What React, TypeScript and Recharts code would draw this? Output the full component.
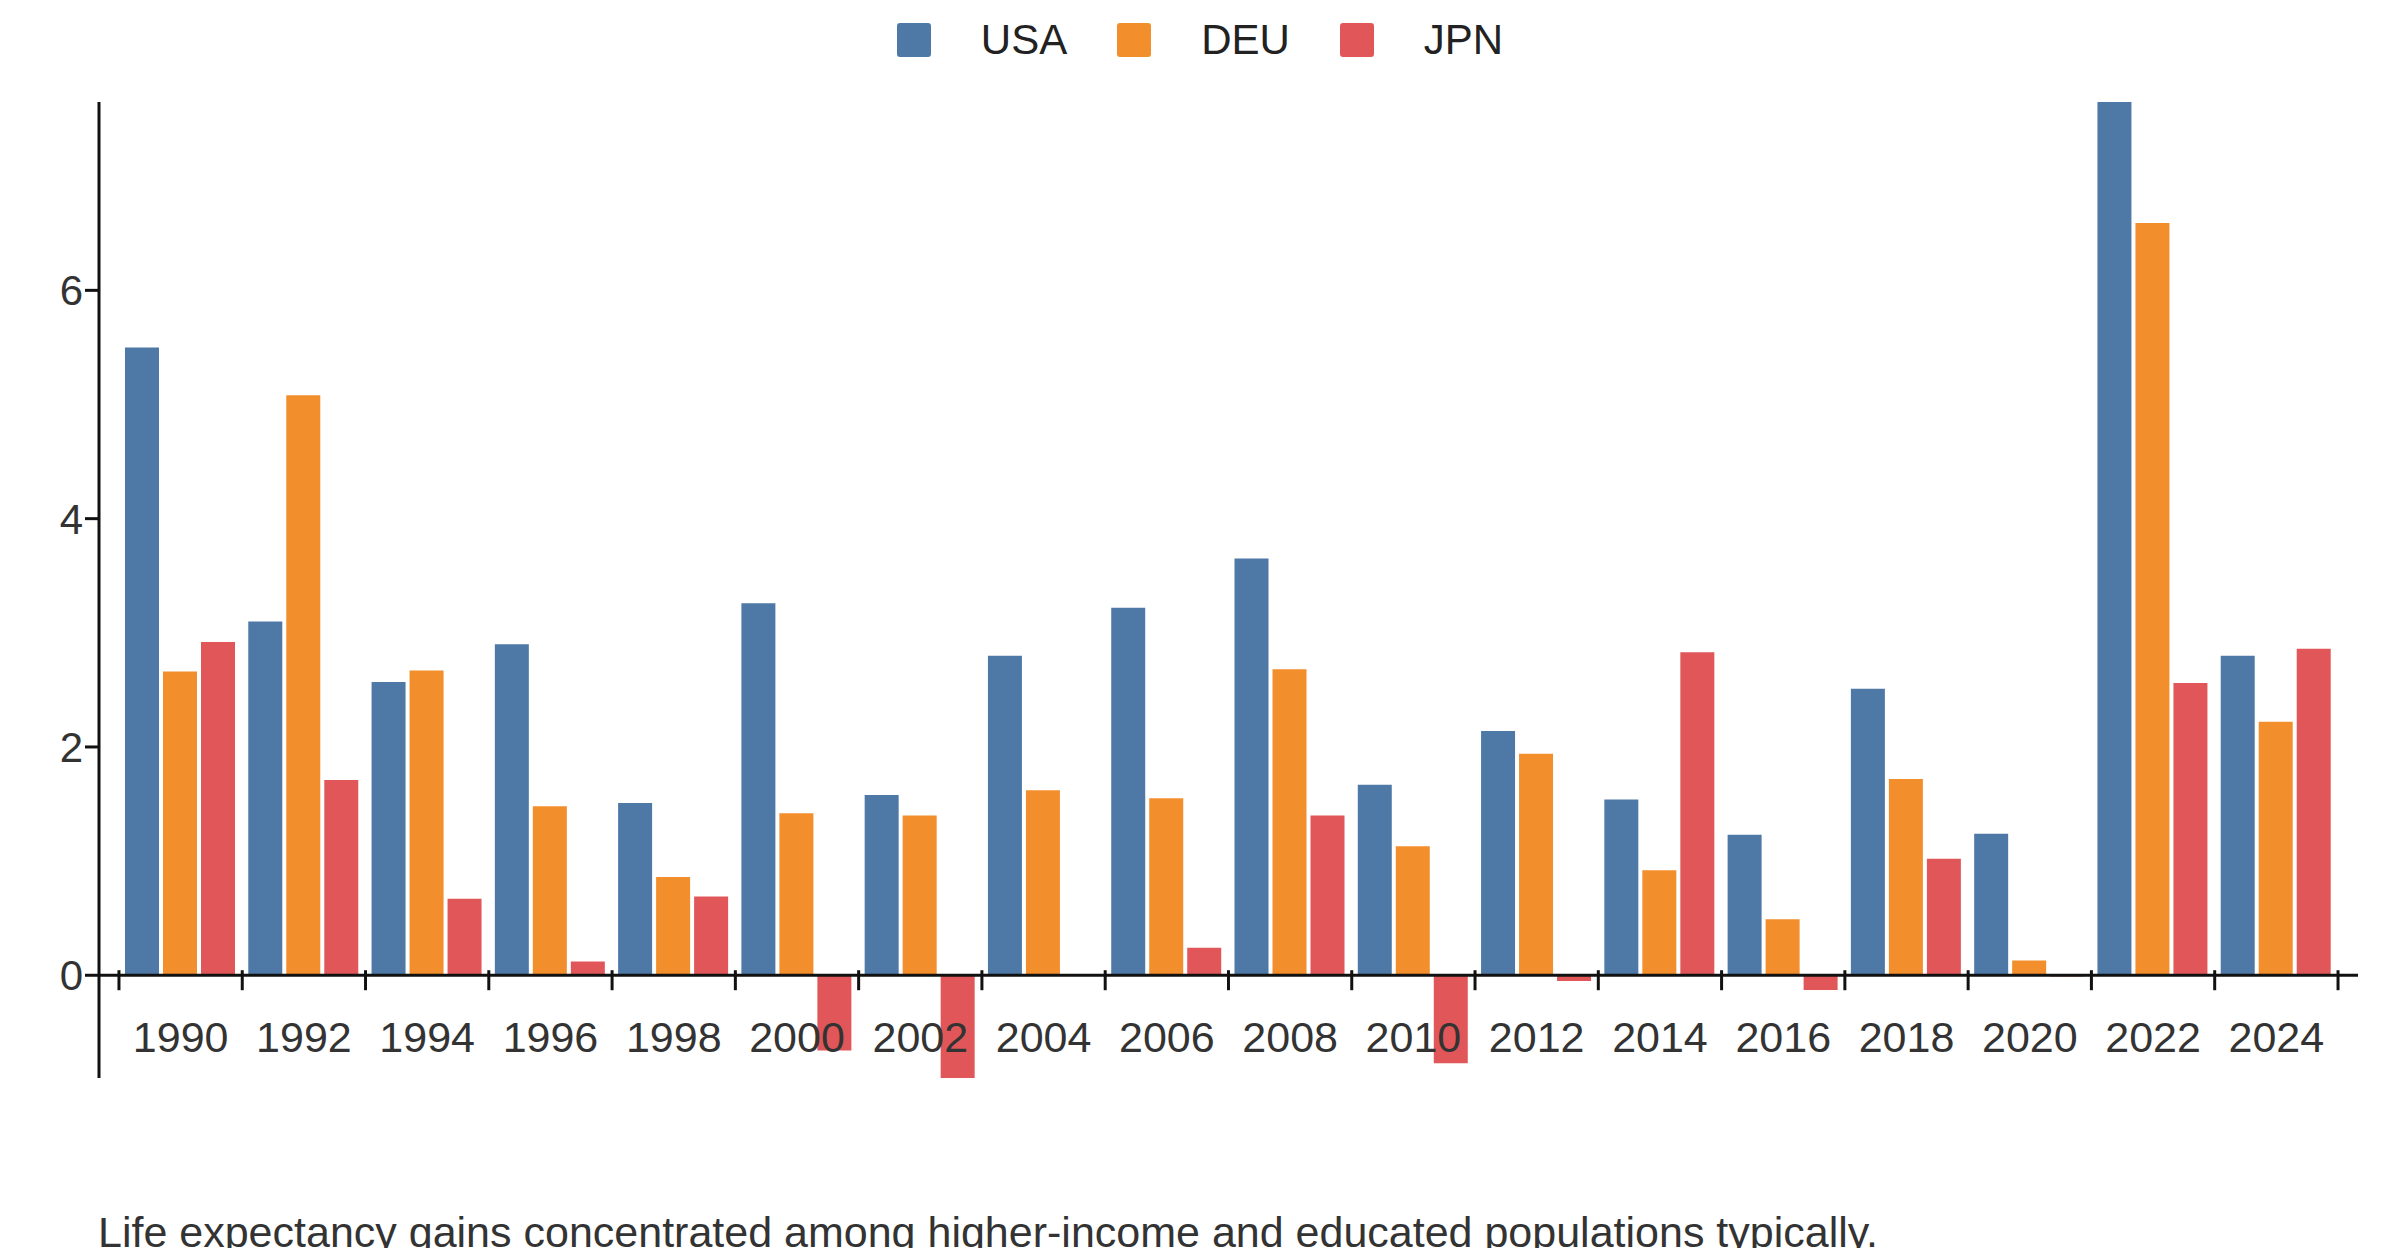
import { BarChart, Bar, XAxis, YAxis, Legend, ReferenceLine } from 'recharts';

const years = ['1990','1992','1994','1996','1998','2000','2002','2004','2006','2008','2010','2012','2014','2016','2018','2020','2022','2024'];
const usa = [5.5, 3.1, 2.57, 2.9, 1.51, 3.26, 1.58, 2.8, 3.22, 3.65, 1.67, 2.14, 1.54, 1.23, 2.51, 1.24, 7.9, 2.8];
const deu = [2.66, 5.08, 2.67, 1.48, 0.86, 1.42, 1.4, 1.62, 1.55, 2.68, 1.13, 1.94, 0.92, 0.49, 1.72, 0.13, 6.59, 2.22];
const jpn = [2.92, 1.71, 0.67, 0.12, 0.69, -0.66, -0.92, 0.01, 0.24, 1.4, -0.77, -0.05, 2.83, -0.13, 1.02, -0.01, 2.56, 2.86];
const yTicks = [0, 2, 4, 6];

const SERIES = [
  { key: 'USA', color: '#4e79a7' },
  { key: 'DEU', color: '#f28e2b' },
  { key: 'JPN', color: '#e15759' },
];

const data = years.map((y, i) => ({ year: y, USA: usa[i], DEU: deu[i], JPN: jpn[i] }));

const FONT = '"Liberation Sans", Arial, sans-serif';
const W = 2384, H = 1100;
const M = { top: 46, right: 34, bottom: 29, left: 90 };
const DOMAIN: [number, number] = [-0.9, 7.65];
const plotH = H - M.top - M.bottom - 1;
const zeroY = M.top + (DOMAIN[1] / (DOMAIN[1] - DOMAIN[0])) * plotH;
const band = (W - M.left - M.right - 40) / years.length;

const XTick = (props: any) => {
  const { x, payload, index } = props;
  const left = x - band / 2;
  return (
    <g>
      <line x1={left} x2={left} y1={zeroY} y2={zeroY + 20} stroke="#111" strokeWidth={3} />
      {index === years.length - 1 && (
        <line x1={x + band / 2} x2={x + band / 2} y1={zeroY} y2={zeroY + 20} stroke="#111" strokeWidth={3} />
      )}
      <text x={x} y={zeroY + 82} textAnchor="middle" fontSize={43} fill="#333" fontFamily={FONT}>
        {payload.value}
      </text>
    </g>
  );
};

const LegendContent = () => (
  <div style={{ display: 'flex', justifyContent: 'center', gap: 50, fontFamily: FONT, fontSize: 42, color: '#222' }}>
    {SERIES.map((s) => (
      <div key={s.key} style={{ display: 'flex', alignItems: 'center', gap: 50 }}>
        <span style={{ width: 34, height: 34, background: s.color, borderRadius: 3, display: 'inline-block' }} />
        <span>{s.key}</span>
      </div>
    ))}
  </div>
);

export default function App() {
  return (
    <div style={{ position: 'relative', width: W, height: 1240, background: '#fff' }}>
      <BarChart width={W} height={H} data={data} margin={M} barCategoryGap={6} barGap={4}>
        <Legend verticalAlign="top" content={<LegendContent />} wrapperStyle={{ top: 8, left: 0, width: W }} />
        <XAxis dataKey="year" height={1} axisLine={false} tickLine={false} tick={<XTick />} interval={0} padding={{ left: 20, right: 20 }} />
        <YAxis
          domain={DOMAIN}
          allowDataOverflow
          ticks={yTicks}
          width={1}
          axisLine={{ stroke: '#111', strokeWidth: 3 }}
          tickLine={{ stroke: '#111', strokeWidth: 3 }}
          tickSize={14}
          tick={{ fontSize: 42, fill: '#333', fontFamily: FONT }}
        />
        <ReferenceLine y={0} stroke="#111" strokeWidth={3} />
        {SERIES.map((s) => (
          <Bar key={s.key} dataKey={s.key} fill={s.color} isAnimationActive={false} />
        ))}
      </BarChart>
      <div style={{ position: 'absolute', left: 90, top: 1200, fontFamily: FONT, fontSize: 43, color: '#333' }}>
        Life expectancy gains concentrated among higher-income and educated populations typically.
      </div>
    </div>
  );
}
